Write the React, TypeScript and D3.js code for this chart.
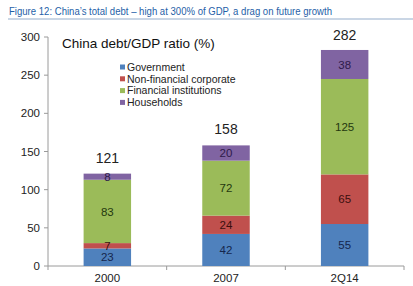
import React from 'react';
import * as d3 from 'd3';

const categories = ['2000', '2007', '2Q14'];
const seriesNames = ['Government', 'Non-financial corporate', 'Financial institutions', 'Households'];
const government = [23, 42, 55];
const nonFinancial = [7, 24, 65];
const financial = [83, 72, 125];
const households = [8, 20, 38];
const totals = [121, 158, 282];
const yTicks = [0, 50, 100, 150, 200, 250, 300];

const fills = ['#4f81bd', '#c0504d', '#9bbb59', '#8064a2'];
const labelColors = ['#15264d', '#3a0f0e', '#24380f', '#2e1a4a'];

const App = () => {
  const W = 413;
  const H = 286;
  const margin = { top: 37, right: 9, bottom: 20, left: 48 };

  const x = d3.scaleBand<string>()
    .domain(categories)
    .range([margin.left, W - margin.right])
    .paddingInner(0.6)
    .paddingOuter(0.3);

  const y = d3.scaleLinear()
    .domain([0, 300])
    .range([H - margin.bottom, margin.top]);

  const rows = categories.map((c, i) => ({
    category: c,
    Government: government[i],
    'Non-financial corporate': nonFinancial[i],
    'Financial institutions': financial[i],
    Households: households[i],
  }));

  const stacked = d3.stack<any>().keys(seriesNames)(rows);

  const step = (W - margin.right - margin.left) / categories.length;
  const boundaries = d3.range(categories.length + 1).map(i => margin.left + i * step);

  const font = 'Arial, "Liberation Sans", sans-serif';

  return (
    <svg width={W} height={H} style={{ position: 'absolute', left: 0, top: 0, background: '#fff' }} fontFamily={font}>
      {/* figure title */}
      <text x={9} y={14.5} fontSize={11.5} fill="#1f5fa8" fontFamily='"Liberation Sans Narrow", "Arial Narrow", Arial, sans-serif' textLength={323} lengthAdjust="spacingAndGlyphs">
        Figure 12: China’s total debt – high at 300% of GDP, a drag on future growth
      </text>
      <line x1={8} x2={W} y1={19} y2={19} stroke="#b8c8dc" strokeWidth={1.5} />

      {/* y axis */}
      <line x1={margin.left} x2={margin.left} y1={y(300)} y2={y(0)} stroke="#9a9a9a" />
      {yTicks.map(t => (
        <g key={t}>
          <line x1={margin.left - 4} x2={margin.left} y1={y(t)} y2={y(t)} stroke="#9a9a9a" />
          <text x={margin.left - 8} y={y(t)} dy="0.35em" textAnchor="end" fontSize={11.5} fill="#222">{t}</text>
        </g>
      ))}

      {/* x axis */}
      <line x1={margin.left} x2={W - margin.right} y1={y(0)} y2={y(0)} stroke="#9a9a9a" />
      {boundaries.map((b, i) => (
        <line key={i} x1={b} x2={b} y1={y(0)} y2={y(0) + 4} stroke="#9a9a9a" />
      ))}
      {categories.map(c => (
        <text key={c} x={(x(c) ?? 0) + x.bandwidth() / 2} y={282} textAnchor="middle" fontSize={11.5} fill="#222">{c}</text>
      ))}

      {/* bars */}
      {stacked.map((s, si) => (
        <g key={s.key}>
          {s.map((d, i) => (
            <rect
              key={i}
              x={x(categories[i])}
              y={y(d[1])}
              width={x.bandwidth()}
              height={y(d[0]) - y(d[1])}
              fill={fills[si]}
            />
          ))}
        </g>
      ))}

      {/* segment labels on top of all bars */}
      {stacked.map((s, si) => (
        <g key={s.key}>
          {s.map((d, i) => (
            <text
              key={i}
              x={(x(categories[i]) ?? 0) + x.bandwidth() / 2}
              y={(y(d[0]) + y(d[1])) / 2}
              dy="0.36em"
              textAnchor="middle"
              fontSize={11.5}
              fill={labelColors[si]}
            >
              {d[1] - d[0]}
            </text>
          ))}
        </g>
      ))}

      {/* totals */}
      {categories.map((c, i) => (
        <text key={c} x={(x(c) ?? 0) + x.bandwidth() / 2} y={y(totals[i]) - 11} textAnchor="middle" fontSize={14} fill="#222">{totals[i]}</text>
      ))}

      {/* chart title */}
      <text x={62} y={48} fontSize={13.5} fill="#111">China debt/GDP ratio (%)</text>

      {/* legend */}
      {seriesNames.map((n, i) => (
        <g key={n} transform={`translate(120, ${67 + i * 11.8})`}>
          <rect x={0} y={-2.5} width={5} height={5} fill={fills[i]} />
          <text x={7} y={0} dy="0.36em" fontSize={10.5} fill="#222">{n}</text>
        </g>
      ))}
    </svg>
  );
};

export default App;
